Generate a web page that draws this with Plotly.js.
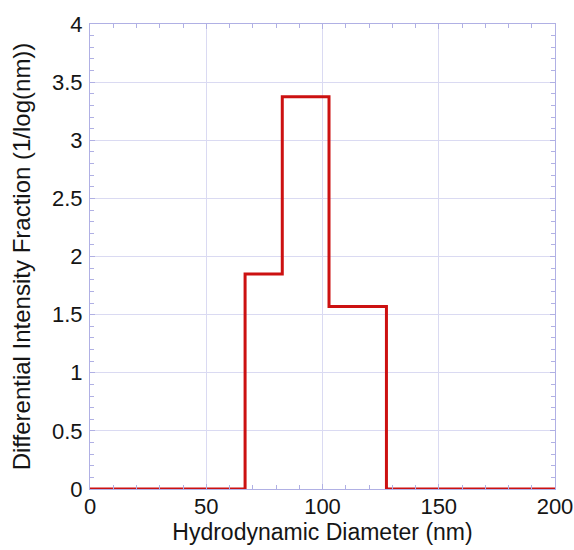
<!DOCTYPE html>
<html><head><meta charset="utf-8">
<script src="https://cdn.plot.ly/plotly-3.0.1.min.js"></script>
<style>body{margin:0;background:#fff}#c{width:574px;height:550px}</style>
</head><body><div id="c"></div>
<script>
const diameter = [0, 66.7, 82.7, 102.8, 127.5, 200];
const fraction = [0, 1.85, 3.375, 1.57, 0, 0];
const xTicks = [0, 50, 100, 150, 200];
const yTicks = [0, 0.5, 1, 1.5, 2, 2.5, 3, 3.5, 4];
const yTickText = ['0', '0.5', '1', '1.5', '2', '2.5', '3', '3.5', '4'];

const axisCol = '#b0b0e4';
const gridCol = '#dadaf2';
const font = {family: 'Liberation Sans, Arial, sans-serif', size: 22, color: '#151515'};

Plotly.newPlot('c', [{
  x: diameter, y: fraction, type: 'scatter', mode: 'lines',
  line: {shape: 'hv', color: '#cc1111', width: 3}, hoverinfo: 'none'
}], {
  width: 574, height: 550,
  margin: {l: 90, r: 19, t: 24, b: 61},
  paper_bgcolor: '#fff', plot_bgcolor: '#fff',
  showlegend: false, font: font,
  xaxis: {
    range: [0, 200], tickvals: xTicks, ticks: 'inside', ticklen: 5, tickcolor: axisCol,
    showline: true, linecolor: axisCol, mirror: 'ticks', showgrid: true, gridcolor: gridCol,
    zeroline: false, tickfont: {size: 22}, ticklabelstandoff: -2,
    minor: {dtick: 10, ticks: 'inside', ticklen: 4, tickcolor: axisCol, showgrid: false},
    title: {text: 'Hydrodynamic Diameter (nm)', font: {size: 23}, standoff: 2}
  },
  yaxis: {
    range: [0, 4], tickvals: yTicks, ticktext: yTickText, ticks: 'inside', ticklen: 5, tickcolor: axisCol,
    showline: true, linecolor: axisCol, mirror: 'ticks', showgrid: true, gridcolor: gridCol,
    zeroline: false, tickfont: {size: 22}, ticklabelstandoff: 2,
    minor: {dtick: 0.1, ticks: 'inside', ticklen: 4, tickcolor: axisCol, showgrid: false},
    title: {text: 'Differential Intensity Fraction (1/log(nm))', font: {size: 24}, standoff: 14}
  }
}, {staticPlot: true});
</script></body></html>
